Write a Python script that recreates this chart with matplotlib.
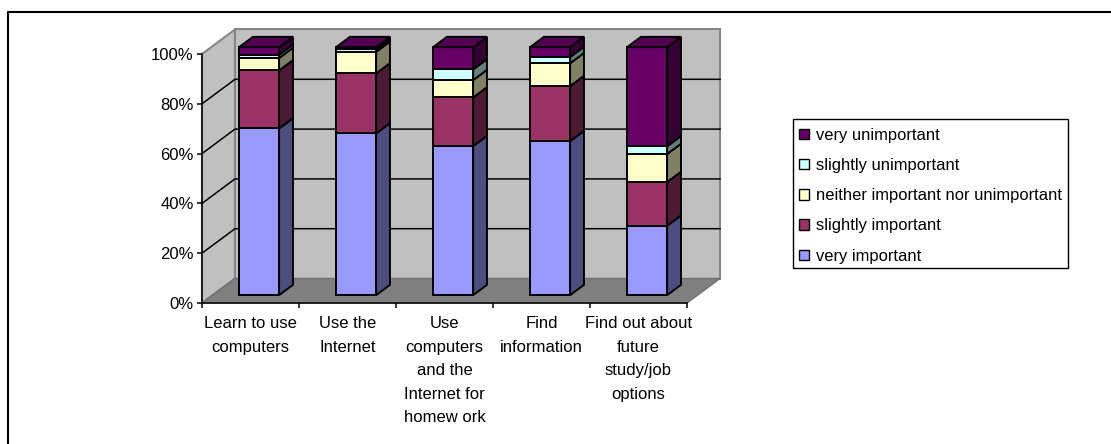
import matplotlib
matplotlib.use("Agg")
import matplotlib.pyplot as plt
from matplotlib.lines import Line2D
from matplotlib.patches import Patch, Polygon, Rectangle
import numpy as np

categories = ['Learn to use\ncomputers', 'Use the\nInternet', 'Use\ncomputers\nand the\nInternet for\nhomew ork',
              'Find\ninformation', 'Find out about\nfuture\nstudy/job\noptions']
very_important = [67.2, 65.2, 60.1, 62.1, 28.0]
slightly_important = [23.4, 24.2, 19.6, 22.2, 17.6]
neither = [5.0, 8.7, 7.0, 9.2, 11.3]
slightly_unimportant = [1.3, 1.0, 4.3, 2.5, 3.1]
very_unimportant = [3.1, 0.9, 9.0, 4.0, 40.0]
series_names = ['very important', 'slightly important', 'neither important nor unimportant',
                'slightly unimportant', 'very unimportant']
series_values = [very_important, slightly_important, neither, slightly_unimportant, very_unimportant]
front_colors = ['#9999FF', '#993366', '#FFFFCC', '#CCFFFF', '#660066']
top_colors = ['#7a7acc', '#7a2952', '#ccccA3', '#a3cccc', '#520052']
side_colors = ['#4D4D80', '#4D1A33', '#808066', '#668080', '#330033']
y_ticks = [0, 20, 40, 60, 80, 100]

W, H = 1111, 444
# depth of the 3d box in data units
DX, DY = 33 / 97, 24.5 / 2.49
BAR_W = 40 / 97
BAR_D0, BAR_D1 = 0.29, 0.71  # bar front/back, share of the depth

plt.rcParams['font.family'] = ['Liberation Sans', 'DejaVu Sans']
fig = plt.figure(figsize=(W / 100, H / 100), dpi=100, facecolor='white')

# outer chart frame, only top and left fall inside the picture
fig.add_artist(Line2D([7.5 / W, 7.5 / W, 1], [0, 1 - 12.5 / H, 1 - 12.5 / H], transform=fig.transFigure,
                      color='black', lw=1.5))

ax = fig.add_axes([202 / W, 1 - 303 / H, 485 / W * (5 + DX) / 5, 249 / H * (100 + DY) / 100])
ax.set_xlim(0, 5 + DX)
ax.set_ylim(0, 100 + DY)
ax.patch.set_visible(False)

wall = '#C0C0C0'
edge = '#868686'
# side wall, back wall, floor
ax.add_patch(Polygon([(0, 0), (DX, DY), (DX, 100 + DY), (0, 100)], fc=wall, ec=edge, lw=1.5, clip_on=False))
ax.add_patch(Rectangle((DX, DY), 5, 100, fc=wall, ec=edge, lw=1.5, clip_on=False))
ax.add_patch(Polygon([(0, 0), (5, 0), (5 + DX, DY), (DX, DY)], fc='#808080', ec='#707070', lw=1, clip_on=False))

# gridlines
for t in y_ticks[1:-1]:
    ax.plot([0, DX, 5 + DX], [t, t + DY, t + DY], color='black', lw=1.1, zorder=1.5, clip_on=False)

# stacked 3d bars
for i in range(len(categories)):
    x0 = i + 0.5 - BAR_W / 2 + BAR_D0 * DX - 0.01
    x1 = x0 + BAR_W
    sx = (BAR_D1 - BAR_D0) * DX
    sy = (BAR_D1 - BAR_D0) * DY
    base = BAR_D0 * DY + 0.3
    scale = 248 / 249
    bottom = 0
    for vals, fc, tc, sc in zip(series_values, front_colors, top_colors, side_colors):
        y0 = base + bottom * scale
        y1 = base + (bottom + vals[i]) * scale
        ax.add_patch(Rectangle((x0, y0), BAR_W, y1 - y0, fc=fc, ec='black', lw=1.4, zorder=3, clip_on=False))
        ax.add_patch(Polygon([(x1, y0), (x1 + sx, y0 + sy), (x1 + sx, y1 + sy), (x1, y1)],
                             fc=sc, ec='black', lw=1.4, zorder=3, clip_on=False))
        bottom += vals[i]
    ax.add_patch(Polygon([(x0, y1), (x1, y1), (x1 + sx, y1 + sy), (x0 + sx, y1 + sy)],
                         fc=tc, ec='black', lw=1.4, zorder=3, clip_on=False))

# axes
for s in ['top', 'right']:
    ax.spines[s].set_visible(False)
ax.spines['left'].set_bounds(0, 100)
ax.spines['bottom'].set_bounds(0, 5)
ax.spines['left'].set_linewidth(1.1)
ax.spines['bottom'].set_linewidth(1.1)
ax.spines['left'].set_zorder(4)
ax.spines['bottom'].set_zorder(4)
ax.set_yticks(y_ticks)
ax.set_yticklabels([f'{t}%' for t in y_ticks], fontsize=12)
ax.tick_params(axis='y', length=3.6, width=1.1, pad=2.5)
ax.set_xticks(np.arange(len(categories)) + 0.5)
ax.set_xticklabels(categories, fontsize=12, linespacing=1.71)
ax.set_xticks(np.arange(len(categories) + 1), minor=True)
ax.tick_params(axis='x', which='major', length=0, pad=9.5)
ax.tick_params(axis='x', which='minor', length=3.6, width=1.1, color='black')

# legend, frame drawn apart so the rows can sit a bit lower in it
fig.add_artist(Rectangle((793 / W, 1 - 268 / H), 275 / W, 149 / H, transform=fig.transFigure,
                         fc='white', ec='black', lw=1))
handles = [Patch(fc=c, ec='black', lw=1) for c in front_colors[::-1]]
leg = fig.legend(handles, series_names[::-1], loc='upper left', bbox_to_anchor=(793 / W, 1 - 121.5 / H),
                 bbox_transform=fig.transFigure, fontsize=11.9, frameon=False,
                 borderaxespad=0, handlelength=0.6, handleheight=0.6,
                 handletextpad=0.4, labelspacing=0.92, borderpad=0.38)

fig.savefig('out.png', dpi=100)
